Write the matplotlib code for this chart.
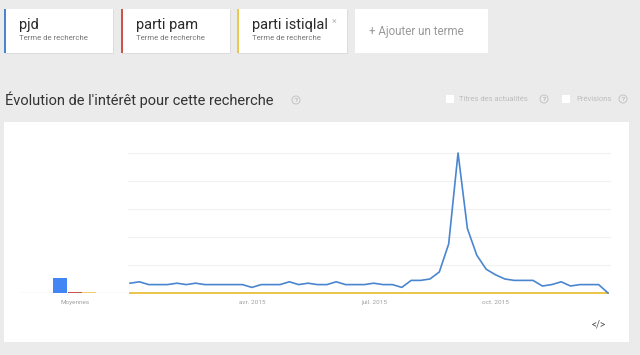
import datetime as dt

import matplotlib

matplotlib.use("Agg")
import matplotlib.pyplot as plt
from matplotlib.patches import Rectangle, Circle

plt.rcParams["font.family"] = ["Roboto", "DejaVu Sans"]

W, H = 640, 355

# weekly interest, starting week of 2015-01-04
start = dt.date(2015, 1, 4)
pjd = [7, 8, 6, 6, 6, 7, 6, 7, 6, 6, 6, 6, 6, 4, 6, 6, 6, 8, 6, 7,
       6, 6, 8, 6, 6, 6, 7, 6, 6, 4, 9, 9, 10, 15, 35, 100, 46, 27, 17, 13,
       10, 9, 9, 9, 5, 6, 8, 5, 6, 6, 6, 0]
parti_pam = [0] * len(pjd)
parti_istiqlal = [0] * len(pjd)
dates = [start + dt.timedelta(weeks=i) for i in range(len(pjd))]

terms = ["pjd", "parti pam", "parti istiqlal"]
term_colors = ["#4a86d0", "#d0534a", "#ecc94e"]
averages = [11, 1, 1]
bar_colors = ["#4285f4", "#c5554f", "#efcb6a"]

tick_months = [4, 7, 10]
month_names = {4: "avr.", 7: "juil.", 10: "oct."}


def fx(x):
    return x / W


def fy(y):
    return 1 - y / H


fig = plt.figure(figsize=(W / 100, H / 100), dpi=100, facecolor="#ebebeb")


def rect(x0, y0, x1, y1, color, z=0):
    fig.patches.append(Rectangle((fx(x0), fy(y1)), fx(x1) - fx(x0), fy(y0) - fy(y1),
                                 transform=fig.transFigure, facecolor=color,
                                 edgecolor="none", zorder=z))


# term cards
cards = [(4, 113), (121, 230), (237, 347)]
for (x0, x1), name, col in zip(cards, terms, term_colors):
    rect(x0 + 1, 10, x1 + 1, 54, "#dcdcdc", z=-2)
    rect(x0, 9, x1, 53, "white", z=-1)
    rect(x0, 9, x0 + 2, 53, col, z=-1)
    fig.text(fx(x0 + 15), fy(29), name, fontsize=10.5, color="#2a2a2a", va="baseline")
    fig.text(fx(x0 + 15), fy(40), "Terme de recherche", fontsize=5.6,
             color="#777777", va="baseline")
fig.text(fx(334), fy(21), "×", fontsize=6.5, color="#bbbbbb", ha="center", va="center")
rect(355, 9, 488, 53, "white", z=-1)
fig.text(fx(369), fy(32), "+ Ajouter un terme", fontsize=8.3, color="#9a9a9a", va="center")

# section title
fig.text(fx(5), fy(105), "Évolution de l'intérêt pour cette recherche",
         fontsize=10.5, color="#333333", va="baseline")


def help_icon(x, y):
    fig.patches.append(Circle((x / 100, (H - y) / 100), 0.04, transform=fig.dpi_scale_trans,
                              facecolor="none", edgecolor="#c4c4c4", lw=0.7))
    fig.text(fx(x), fy(y), "?", fontsize=4.5, color="#9e9e9e", ha="center", va="center")


help_icon(296, 100)
rect(446, 95, 454, 103, "white", z=-1)
fig.text(fx(459), fy(99), "Titres des actualités", fontsize=5.5, color="#bdbdbd", va="center")
help_icon(544, 99)
rect(562, 95, 570, 103, "white", z=-1)
fig.text(fx(576), fy(99), "Prévisions", fontsize=5.5, color="#bdbdbd", va="center")
help_icon(623, 99)

# white chart panel
rect(4, 122, 629, 342, "white", z=-1)

# main time series
ax = fig.add_axes([fx(130), fy(293), fx(608) - fx(130), fy(153) - fy(293)])
ax.set_zorder(2)
ax.set_facecolor("none")
ax.plot(dates, parti_pam, color=term_colors[1], lw=1.2, clip_on=False, zorder=3)
ax.plot(dates, parti_istiqlal, color=term_colors[2], lw=1.4, clip_on=False, zorder=4)
ax.plot(dates, pjd, color=term_colors[0], lw=1.2, clip_on=False, zorder=5)
ax.set_xlim(dates[0], dates[-1])
ax.set_ylim(0, 100)
for v in [20, 40, 60, 80, 100]:
    ax.axhline(v, color="#f0f0f0", lw=0.8, zorder=1, xmin=-0.004, xmax=1.004, clip_on=False)
ticks = [next(d for d in dates if d.month == m) for m in tick_months]
ax.set_xticks(ticks)
ax.set_xticklabels([f"{month_names[d.month]} {d.year}" for d in ticks],
                   fontsize=4.6, color="#a0a0a0")
ax.tick_params(axis="x", length=0, pad=5)
ax.set_yticks([])
for s in ax.spines.values():
    s.set_visible(False)

# averages panel
axm = fig.add_axes([fx(20), fy(293), fx(128) - fx(20), fy(153) - fy(293)])
axm.set_zorder(2)
axm.set_facecolor("none")
axm.bar(range(len(averages)), averages, width=0.97, color=bar_colors, zorder=3)
axm.axhline(0, color="#9a9a9a", lw=0.8, zorder=2)
axm.set_xlim(-2.76, 4.66)
axm.set_ylim(0, 100)
axm.set_xticks([1])
axm.set_xticklabels(["Moyennes"], fontsize=4.6, color="#a0a0a0")
axm.tick_params(axis="x", length=0, pad=5)
axm.set_yticks([])
for s in axm.spines.values():
    s.set_visible(False)

fig.text(fx(599), fy(324), "</>", fontsize=7, color="#555555", ha="center", va="center")

fig.savefig("out.png", dpi=100, facecolor=fig.get_facecolor())
